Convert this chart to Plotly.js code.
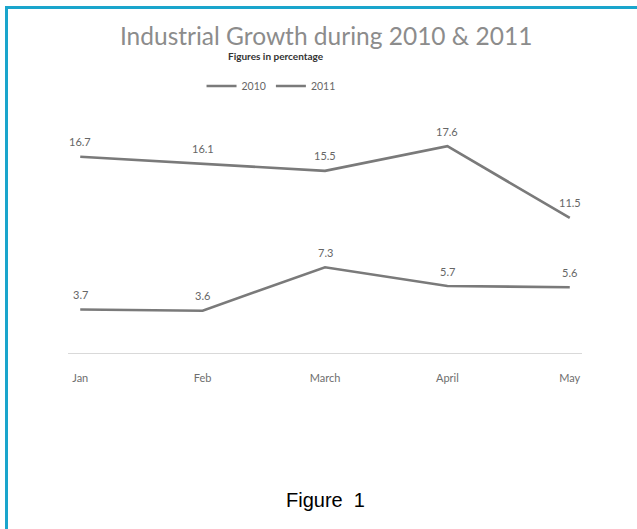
<!DOCTYPE html>
<html>
<head>
<meta charset="utf-8">
<script src="https://cdn.plot.ly/plotly-3.0.1.min.js"></script>
<style>
  html, body { margin: 0; padding: 0; background: #ffffff; }
  #wrap { position: relative; width: 637px; height: 529px; overflow: hidden; }
  #chart { position: absolute; left: 0; top: 0; width: 637px; height: 529px; }
  #frame { position: absolute; left: 5px; top: 6px; width: 640px; height: 540px;
           border-top: 3px solid #1aa5cc; border-left: 3px solid #1aa5cc; pointer-events: none; }
</style>
</head>
<body>
<div id="wrap">
  <div id="chart"></div>
  <div id="frame"></div>
</div>
<script>
const months = ["Jan", "Feb", "March", "April", "May"];
const series2010 = [16.7, 16.1, 15.5, 17.6, 11.5];
const series2011 = [3.7, 3.6, 7.3, 5.7, 5.6];
const seriesNames = ["2010", "2011"];

const lineColor = "#7a7a7a";
const labelColor = "#666666";
const font = "Lato, 'Open Sans', sans-serif";

const xIdx = months.map((_, i) => i);

const traces = [series2010, series2011].map((vals, k) => ({
  type: "scatter",
  mode: "lines",
  name: seriesNames[k],
  x: xIdx,
  y: vals,
  line: { color: lineColor, width: 2.6 },
  hoverinfo: "skip"
}));

const annotations = [];
[series2010, series2011].forEach(vals => {
  vals.forEach((v, i) => {
    annotations.push({
      x: i, y: v, xref: "x", yref: "y",
      text: v.toFixed(1), showarrow: false,
      yshift: 15, font: { family: font, size: 11, color: labelColor }
    });
  });
});

annotations.push({
  xref: "paper", yref: "paper", x: 0.405, y: 1.264, yanchor: "middle",
  text: "<b>Figures in percentage</b>", showarrow: false,
  font: { family: font, size: 10, color: "#333333" }
});
annotations.push({
  xref: "paper", yref: "paper", x: 0.5, y: -0.626, yanchor: "middle",
  text: "Figure  1", showarrow: false,
  font: { family: "'Liberation Sans', Arial, sans-serif", size: 20, color: "#000000" }
});

const layout = {
  width: 637, height: 529,
  margin: { l: 68, r: 55, t: 118, b: 176 },
  paper_bgcolor: "#ffffff",
  plot_bgcolor: "#ffffff",
  showlegend: true,
  title: {
    text: "Industrial Growth during 2010 &amp; 2011",
    x: 0.512, xref: "container", xanchor: "center",
    y: 0.932, yref: "container", yanchor: "middle",
    font: { family: font, size: 24.5, color: "#8c8c8c" }
  },
  legend: {
    orientation: "h",
    x: 0.395, xanchor: "center",
    y: 1.136, yanchor: "middle",
    font: { family: font, size: 10.5, color: labelColor },
    itemwidth: 30,
    tracegroupgap: 0,
    bgcolor: "rgba(0,0,0,0)"
  },
  xaxis: {
    range: [-0.1, 4.1],
    tickmode: "array",
    tickvals: xIdx,
    ticktext: months,
    showgrid: false,
    zeroline: false,
    showline: true,
    linecolor: "#d9d9d9",
    linewidth: 1,
    ticks: "",
    ticklabelstandoff: 15,
    tickfont: { family: font, size: 11, color: "#6e6e6e" },
    fixedrange: true
  },
  yaxis: {
    range: [0, 20],
    visible: false,
    showgrid: false,
    zeroline: false,
    fixedrange: true
  },
  annotations: annotations
};

Plotly.newPlot("chart", traces, layout, { displayModeBar: false, staticPlot: true });
</script>
</body>
</html>
